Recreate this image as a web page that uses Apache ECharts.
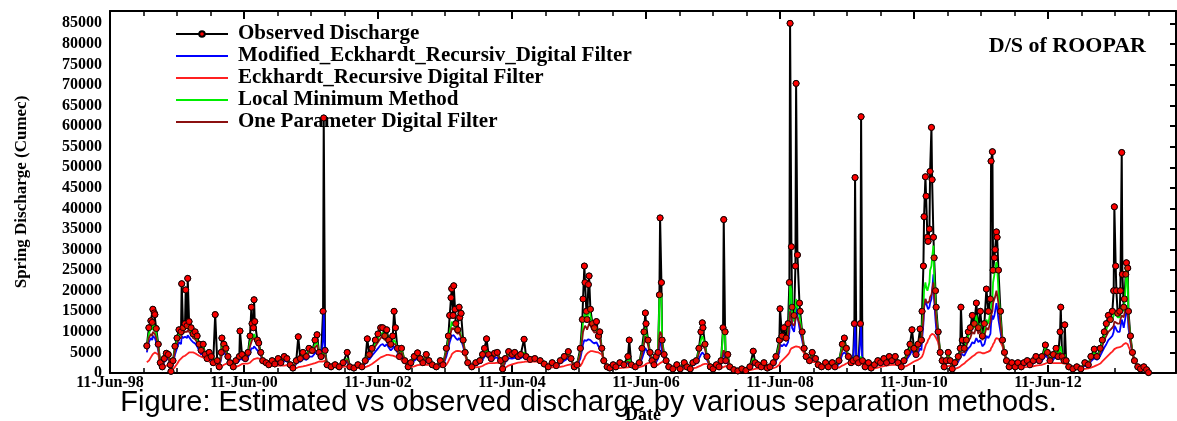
<!DOCTYPE html>
<html>
<head>
<meta charset="utf-8">
<title>D/S of ROOPAR</title>
<script src="https://cdn.jsdelivr.net/npm/echarts@6/dist/echarts.min.js"></script>
<style>
  html, body { margin: 0; padding: 0; background: #fff; }
  #chart { width: 1177px; height: 421px; }
</style>
</head>
<body>
<div id="chart"></div>
<script>
// dates as decimal years
const dates = [
  1998.99, 1999.02, 1999.05, 1999.07, 1999.08, 1999.10, 1999.11, 1999.13, 1999.16, 1999.19,
  1999.22, 1999.25, 1999.28, 1999.31, 1999.34, 1999.35, 1999.38, 1999.41, 1999.44, 1999.47,
  1999.50, 1999.51, 1999.53, 1999.56, 1999.57, 1999.59, 1999.60, 1999.62, 1999.65, 1999.68,
  1999.71, 1999.74, 1999.77, 1999.80, 1999.83, 1999.86, 1999.89, 1999.92, 1999.95, 1999.98,
  2000.01, 2000.04, 2000.07, 2000.10, 2000.11, 2000.14, 2000.17, 2000.20, 2000.23, 2000.28,
  2000.32, 2000.37, 2000.38, 2000.41, 2000.46, 2000.50, 2000.53, 2000.55, 2000.56, 2000.58,
  2000.59, 2000.60, 2000.64, 2000.66, 2000.69, 2000.72, 2000.77, 2000.81, 2000.86, 2000.90,
  2000.95, 2000.99, 2001.04, 2001.08, 2001.13, 2001.17, 2001.22, 2001.25, 2001.28, 2001.32,
  2001.37, 2001.41, 2001.46, 2001.50, 2001.53, 2001.56, 2001.59, 2001.62, 2001.63, 2001.65,
  2001.68, 2001.74, 2001.80, 2001.86, 2001.92, 2001.98, 2002.02, 2002.08, 2002.14, 2002.20,
  2002.25, 2002.28, 2002.31, 2002.35, 2002.40, 2002.44, 2002.48, 2002.51, 2002.54, 2002.57,
  2002.60, 2002.63, 2002.66, 2002.68, 2002.70, 2002.73, 2002.76, 2002.79, 2002.84, 2002.89,
  2002.93, 2002.98, 2003.03, 2003.07, 2003.11, 2003.16, 2003.20, 2003.25, 2003.31, 2003.37,
  2003.41, 2003.46, 2003.49, 2003.51, 2003.53, 2003.54, 2003.56, 2003.57, 2003.59, 2003.60,
  2003.63, 2003.65, 2003.66, 2003.68, 2003.71, 2003.74, 2003.78, 2003.84, 2003.90, 2003.96,
  2004.00, 2004.03, 2004.06, 2004.09, 2004.13, 2004.18, 2004.22, 2004.27, 2004.30, 2004.34,
  2004.39, 2004.44, 2004.48, 2004.53, 2004.57, 2004.62, 2004.65, 2004.71, 2004.78, 2004.86,
  2004.92, 2004.98, 2005.04, 2005.10, 2005.16, 2005.22, 2005.28, 2005.32, 2005.37, 2005.41,
  2005.46, 2005.49, 2005.50, 2005.52, 2005.53, 2005.55, 2005.56, 2005.58, 2005.59, 2005.61,
  2005.64, 2005.67, 2005.70, 2005.73, 2005.75, 2005.78, 2005.81, 2005.86, 2005.90, 2005.95,
  2005.99, 2006.05, 2006.11, 2006.17, 2006.19, 2006.22, 2006.28, 2006.34, 2006.38, 2006.41,
  2006.43, 2006.44, 2006.47, 2006.50, 2006.53, 2006.56, 2006.59, 2006.62, 2006.64, 2006.65,
  2006.67, 2006.68, 2006.71, 2006.74, 2006.78, 2006.84, 2006.90, 2006.95, 2007.01, 2007.05,
  2007.10, 2007.14, 2007.19, 2007.23, 2007.26, 2007.28, 2007.29, 2007.32, 2007.35, 2007.40,
  2007.44, 2007.49, 2007.53, 2007.56, 2007.59, 2007.60, 2007.62, 2007.63, 2007.66, 2007.69,
  2007.75, 2007.81, 2007.87, 2007.93, 2007.99, 2008.04, 2008.07, 2008.11, 2008.16, 2008.20,
  2008.25, 2008.29, 2008.34, 2008.38, 2008.43, 2008.44, 2008.47, 2008.50, 2008.53, 2008.56,
  2008.58, 2008.59, 2008.61, 2008.62, 2008.65, 2008.67, 2008.68, 2008.70, 2008.73, 2008.74,
  2008.77, 2008.80, 2008.83, 2008.88, 2008.92, 2008.97, 2009.01, 2009.06, 2009.12, 2009.16,
  2009.22, 2009.26, 2009.32, 2009.37, 2009.40, 2009.43, 2009.46, 2009.50, 2009.53, 2009.55,
  2009.56, 2009.58, 2009.61, 2009.64, 2009.65, 2009.67, 2009.71, 2009.76, 2009.80, 2009.85,
  2009.90, 2009.94, 2009.99, 2010.03, 2010.07, 2010.11, 2010.16, 2010.20, 2010.25, 2010.29,
  2010.34, 2010.38, 2010.41, 2010.44, 2010.47, 2010.50, 2010.53, 2010.55, 2010.56, 2010.58,
  2010.59, 2010.61, 2010.62, 2010.64, 2010.65, 2010.67, 2010.68, 2010.70, 2010.71, 2010.73,
  2010.74, 2010.76, 2010.77, 2010.80, 2010.83, 2010.86, 2010.89, 2010.92, 2010.95, 2010.98,
  2011.01, 2011.05, 2011.10, 2011.13, 2011.14, 2011.16, 2011.19, 2011.22, 2011.25, 2011.28,
  2011.31, 2011.34, 2011.37, 2011.40, 2011.43, 2011.46, 2011.49, 2011.52, 2011.55, 2011.58,
  2011.59, 2011.61, 2011.62, 2011.64, 2011.65, 2011.67, 2011.68, 2011.70, 2011.73, 2011.76,
  2011.79, 2011.82, 2011.86, 2011.90, 2011.95, 2011.99, 2012.04, 2012.08, 2012.13, 2012.17,
  2012.22, 2012.26, 2012.31, 2012.35, 2012.40, 2012.43, 2012.47, 2012.52, 2012.56, 2012.59,
  2012.62, 2012.63, 2012.65, 2012.68, 2012.69, 2012.71, 2012.75, 2012.81, 2012.87, 2012.93,
  2012.99, 2013.04, 2013.08, 2013.13, 2013.17, 2013.22, 2013.25, 2013.28, 2013.31, 2013.34,
  2013.37, 2013.40, 2013.42, 2013.43, 2013.45, 2013.46, 2013.48, 2013.51, 2013.52, 2013.54,
  2013.55, 2013.57, 2013.58, 2013.60, 2013.61, 2013.63, 2013.64, 2013.67, 2013.70, 2013.73,
  2013.78, 2013.82, 2013.87, 2013.91, 2013.94
]

const observed = [
  6600, 11000, 12700, 12300, 15500, 14600, 14200, 10800, 7000, 2500,
  1500, 3500, 4800, 4500, 2000, 400, 3000, 6500, 8500, 10500,
  10000, 21700, 11000, 12000, 20200, 11500, 23000, 12500, 11000, 9500,
  10000, 9000, 7000, 5500, 7000, 4500, 3500, 5000, 4000, 2500,
  14200, 3000, 1500, 5000, 8500, 7000, 6000, 4000, 2500, 1500,
  3000, 4000, 10200, 4500, 3500, 5000, 9000, 16000, 12000, 11000,
  17800, 12500, 8000, 7300, 5000, 3000, 2500, 2000, 3000, 2200,
  3500, 2500, 4000, 3500, 2000, 1200, 3000, 8800, 3500, 5000,
  4000, 6000, 5500, 8000, 9300, 5000, 4000, 15000, 62000, 5500,
  2000, 1500, 2000, 1500, 2500, 5000, 1500, 1200, 2000, 1500,
  3000, 8300, 4500, 6000, 8000, 9500, 11000, 11000, 9000, 10500,
  8000, 7000, 9000, 15000, 11000, 6000, 4000, 6000, 3000, 1500,
  2500, 4000, 4900, 3500, 2500, 4500, 3000, 2000, 1500, 3000,
  2000, 6000, 9000, 14000, 18300, 20500, 14000, 21200, 15500, 12000,
  10500, 16000, 13500, 14500, 8000, 5000, 2500, 1500, 2500, 3000,
  4500, 6000, 8300, 4500, 3500, 4800, 5000, 3000, 1000, 3500,
  5200, 4500, 5000, 4000, 4500, 8200, 4000, 3300, 3500, 3000,
  2200, 1500, 2500, 1800, 3000, 4000, 5200, 3500, 1500, 2000,
  6000, 13000, 18000, 26000, 22000, 15000, 13000, 21500, 23600, 15500,
  12000, 11000, 12500, 9000, 10000, 6000, 3000, 1500, 1200, 2000,
  1500, 2500, 2000, 4000, 8000, 2000, 1500, 2500, 6000, 10000,
  14600, 12000, 8000, 5000, 3000, 2000, 4000, 5000, 19000, 37700,
  22000, 8000, 4500, 3000, 1500, 1000, 2000, 1000, 2500, 1500,
  1000, 2500, 3000, 6000, 10000, 12200, 11000, 7000, 4000, 1500,
  1000, 2000, 1500, 3000, 11000, 37300, 10000, 3000, 4500, 1500,
  800, 500, 1000, 600, 1500, 5300, 2500, 2000, 1500, 2500,
  1200, 1500, 2500, 4000, 8000, 15600, 9000, 11000, 8500, 12000,
  22000, 85000, 30700, 16000, 14000, 26000, 70400, 28700, 17000, 15000,
  10000, 6000, 4000, 3000, 5000, 3500, 2000, 1500, 2500, 1500,
  2500, 1500, 3000, 7000, 8500, 6000, 4000, 2500, 3000, 12000,
  47500, 3500, 2500, 12000, 62300, 3000, 1500, 2500, 1200, 2000,
  3000, 2500, 3500, 2500, 4000, 3000, 4000, 2500, 1500, 3000,
  5000, 7000, 10500, 6000, 4500, 7000, 10700, 8000, 15000, 26000,
  38000, 47700, 43000, 33000, 32000, 35000, 49000, 59700, 47000, 33000,
  28000, 20000, 16000, 10000, 5000, 3000, 1500, 3000, 5000, 3000,
  1000, 2500, 4000, 6000, 16000, 8000, 6000, 8000, 10000, 11000,
  14000, 12000, 17000, 11000, 15000, 9000, 12000, 20400, 15000, 18000,
  51500, 53800, 25000, 28000, 30000, 34300, 33000, 25000, 15000, 8000,
  5000, 3000, 1500, 2500, 1500, 2500, 1500, 2500, 3000, 2000,
  3000, 4000, 3000, 4000, 6800, 5000, 3000, 4500, 6000, 4000,
  10000, 16000, 4000, 3000, 11700, 3000, 1500, 1000, 1500, 1000,
  2500, 2000, 4000, 5800, 4000, 6000, 8000, 10000, 12000, 14000,
  13000, 15000, 20000, 40400, 26000, 20000, 14500, 15000, 20000, 53600,
  24000, 16000, 18000, 24000, 26800, 25500, 15000, 9000, 5000, 3000,
  1500, 1000, 1500, 800, 100
]

const modEckhardt = [
  5000, 7500, 8500, 8000, 9000, 8800, 8500, 7500, 5500, 2200,
  1300, 2600, 3500, 3400, 1800, 400, 2200, 4500, 6000, 7500,
  7000, 9000, 8500, 8800, 9000, 8500, 9200, 8800, 8000, 7500,
  7200, 6500, 5500, 4500, 5000, 3800, 3200, 3500, 3200, 2300,
  3000, 2400, 1400, 3500, 5000, 4800, 4500, 3500, 2200, 1400,
  2400, 3000, 3500, 3300, 3000, 3800, 5000, 6000, 6200, 6000,
  6500, 6300, 5500, 5000, 4200, 2800, 2300, 1900, 2500, 2000,
  2800, 2200, 3000, 2800, 1800, 1100, 2200, 3000, 2700, 3500,
  3200, 4000, 4000, 4800, 5200, 4200, 3600, 8000, 15000, 4500,
  1900, 1400, 1800, 1400, 2100, 2800, 1400, 1100, 1700, 1400,
  2300, 3500, 3300, 4200, 5200, 6000, 6800, 7000, 6500, 7000,
  6200, 5500, 6000, 6500, 6200, 5000, 3600, 4200, 2800, 1400,
  2000, 3000, 3500, 3000, 2300, 3300, 2600, 1900, 1400, 2400,
  1800, 4000, 6000, 7500, 8500, 9000, 8800, 9200, 9000, 8500,
  8000, 8500, 8200, 8000, 6500, 4500, 2400, 1400, 2000, 2400,
  3200, 4000, 4500, 3800, 3100, 3600, 3800, 2700, 1000, 2600,
  3600, 3500, 3700, 3400, 3600, 4200, 3500, 3100, 3200, 2800,
  2100, 1400, 2000, 1700, 2400, 3000, 3600, 3000, 1500, 1800,
  3500, 6000, 7000, 8000, 8000, 7800, 7500, 8200, 8500, 8000,
  7500, 7200, 7500, 6500, 6800, 5200, 2900, 1400, 1100, 1700,
  1400, 2000, 1800, 2500, 3000, 1800, 1400, 2000, 3500, 5000,
  6000, 5800, 5000, 4000, 2800, 1900, 2600, 3500, 6000, 8000,
  7000, 5000, 3800, 2700, 1400, 1000, 1600, 1000, 1800, 1400,
  1000, 1900, 2300, 3500, 4500, 5000, 4800, 4200, 3200, 1400,
  1000, 1500, 1300, 2000, 4500, 5000, 4800, 2500, 2800, 1400,
  800, 500, 900, 600, 1200, 2500, 2000, 1700, 1400, 1900,
  1100, 1300, 1900, 2800, 5000, 7000, 6500, 7000, 6500, 7500,
  10000, 21000, 16000, 11000, 10000, 13000, 16000, 14000, 11000, 10000,
  8000, 5200, 3800, 2800, 3500, 3000, 1900, 1400, 2000, 1400,
  1900, 1400, 2200, 4500, 5000, 4500, 3500, 2400, 2800, 8000,
  12000, 3000, 2300, 8000, 11700, 2700, 1400, 2000, 1100, 1700,
  2300, 2200, 2700, 2300, 3000, 2700, 3200, 2300, 1500, 2300,
  3500, 4500, 5500, 4500, 3800, 4800, 6000, 5500, 8000, 12000,
  16000, 18000, 17000, 16000, 15500, 16000, 17000, 18000, 20000, 24000,
  18000, 13000, 11000, 8000, 4800, 2900, 1500, 2300, 3200, 2600,
  1000, 1800, 2800, 3800, 5000, 4500, 4200, 5200, 6000, 6500,
  7500, 7200, 8500, 7500, 8000, 6500, 7000, 9000, 8500, 9500,
  12000, 14000, 13000, 14000, 15000, 17000, 16000, 13000, 10000, 7000,
  4800, 2900, 1500, 2000, 1400, 2000, 1400, 2000, 2400, 1900,
  2400, 3000, 2600, 3000, 4200, 3800, 2800, 3300, 4000, 3400,
  4000, 4500, 3500, 2800, 4000, 2700, 1400, 1000, 1300, 1000,
  1800, 1700, 2800, 3600, 3200, 4200, 5200, 6200, 7000, 8000,
  8500, 9000, 10000, 11500, 11000, 10500, 10000, 10000, 11000, 13000,
  12500, 11000, 12000, 14000, 15000, 14000, 11000, 7500, 4800, 2900,
  1500, 1000, 1200, 700, 100
]

const eckhardt = [
  2600, 3000, 3800, 4200, 4600, 4800, 5000, 5000, 4500, 2200,
  1300, 1500, 1800, 2000, 1800, 400, 900, 1500, 2200, 3000,
  3500, 3800, 4000, 4200, 4500, 4600, 4800, 5000, 5000, 5000,
  4800, 4500, 4200, 4000, 3800, 3500, 3000, 2800, 2600, 2200,
  2000, 1800, 1400, 1500, 1800, 2000, 2200, 2200, 2000, 1400,
  1500, 1800, 2000, 2200, 2300, 2300, 2500, 2800, 3000, 3200,
  3400, 3500, 3600, 3500, 3400, 2800, 2300, 1900, 1800, 1800,
  1800, 1800, 1800, 1900, 1800, 1100, 1200, 1400, 1500, 1600,
  1800, 2000, 2200, 2400, 2600, 2800, 2800, 2800, 3000, 3000,
  1900, 1400, 1500, 1400, 1500, 1600, 1400, 1100, 1200, 1300,
  1400, 1600, 1800, 2200, 2800, 3300, 3800, 4000, 4200, 4400,
  4400, 4300, 4200, 4100, 4000, 3800, 3400, 3200, 2700, 1400,
  1400, 1600, 1900, 2000, 2000, 2000, 2000, 1800, 1400, 1500,
  1500, 2000, 2800, 3500, 4000, 4500, 4800, 5000, 5200, 5300,
  5400, 5400, 5300, 5200, 5000, 4200, 2400, 1400, 1400, 1500,
  1700, 2000, 2200, 2400, 2400, 2400, 2500, 2400, 1000, 1300,
  1800, 2100, 2300, 2500, 2600, 2700, 2800, 2800, 2800, 2600,
  2000, 1400, 1400, 1400, 1500, 1700, 2000, 2100, 1500, 1500,
  1700, 2500, 3000, 3500, 4000, 4500, 4800, 5000, 5200, 5300,
  5300, 5200, 5100, 5000, 4800, 4500, 2900, 1400, 1100, 1100,
  1200, 1200, 1300, 1400, 1500, 1500, 1400, 1400, 1600, 1800,
  2000, 2200, 2400, 2500, 2400, 1900, 1800, 2000, 2200, 2400,
  2600, 2700, 2700, 2500, 1400, 1000, 1000, 1000, 1000, 1100,
  1000, 1100, 1300, 1600, 1800, 2000, 2100, 2200, 2200, 1400,
  1000, 1000, 1000, 1100, 1400, 1500, 1600, 1700, 1700, 1400,
  800, 500, 600, 600, 700, 900, 1000, 1100, 1100, 1100,
  1100, 1100, 1200, 1400, 2000, 2500, 3000, 3500, 4000, 4500,
  5000, 5500, 6000, 6200, 6300, 6400, 6500, 6500, 6300, 6000,
  5500, 4800, 3800, 2800, 2700, 2600, 1900, 1400, 1400, 1300,
  1300, 1300, 1300, 1800, 2000, 2300, 2500, 2300, 2200, 2200,
  2200, 2200, 2100, 2100, 2100, 2100, 1400, 1400, 1100, 1100,
  1300, 1500, 1700, 1800, 1900, 2000, 2000, 2000, 1500, 1500,
  1800, 2200, 2500, 2800, 3000, 3200, 3500, 3600, 4000, 4800,
  5500, 6500, 7000, 7500, 8000, 8500, 9000, 9300, 9500, 9500,
  9300, 9000, 8500, 7500, 4700, 2900, 1500, 1500, 1700, 1800,
  1000, 1000, 1300, 1600, 1800, 2000, 2300, 2800, 3200, 3600,
  4000, 4300, 4800, 5000, 5000, 4800, 4800, 5000, 5200, 5500,
  6000, 6500, 7000, 7500, 8000, 8500, 8500, 8300, 7500, 6500,
  4700, 2900, 1500, 1500, 1400, 1400, 1400, 1400, 1500, 1600,
  1600, 1800, 1900, 2000, 2300, 2500, 2500, 2400, 2400, 2400,
  2400, 2400, 2400, 2300, 2300, 2200, 1400, 1000, 1000, 1000,
  1000, 1100, 1300, 1600, 1900, 2300, 2800, 3300, 3800, 4300,
  4800, 5200, 5500, 5800, 6000, 6100, 6200, 6300, 6400, 6500,
  6800, 7000, 7200, 7300, 7300, 7000, 6500, 5300, 4500, 2900,
  1500, 1000, 900, 600, 100
]

const localMinimum = [
  6000, 9500, 11000, 10500, 12000, 11500, 11000, 9500, 6500, 2400,
  1400, 3200, 4500, 4200, 1900, 400, 2800, 6000, 8000, 9500,
  9000, 11000, 10500, 11500, 11800, 11000, 12000, 11500, 10000, 9000,
  8800, 8000, 6500, 5200, 6500, 4300, 3400, 4500, 3800, 2400,
  3500, 2800, 1500, 4500, 7000, 6500, 5500, 3800, 2400, 1400,
  2800, 3800, 4200, 4200, 3300, 4800, 7500, 8500, 9000, 8500,
  9500, 9000, 7500, 6800, 4800, 3000, 2400, 2000, 2800, 2100,
  3200, 2400, 3700, 3300, 1900, 1200, 2800, 3500, 3300, 4500,
  3800, 5500, 5200, 7000, 7500, 4800, 3900, 5000, 5000, 4500,
  2000, 1500, 1900, 1500, 2300, 3500, 1500, 1200, 1900, 1500,
  2800, 4500, 4200, 5500, 7200, 8500, 9500, 9800, 8500, 9500,
  7500, 6500, 7500, 8000, 7500, 5800, 3900, 5500, 3000, 1500,
  2300, 3700, 4500, 3300, 2400, 4200, 2900, 2000, 1500, 2800,
  1900, 5500, 8000, 10000, 11500, 12500, 11500, 12000, 11500, 10500,
  9800, 10500, 10000, 9800, 7500, 4900, 2500, 1500, 2300, 2800,
  4000, 5000, 5500, 4300, 3400, 4400, 4700, 2900, 1000, 3200,
  4800, 4300, 4700, 3900, 4300, 5000, 3900, 3200, 3400, 2900,
  2200, 1500, 2300, 1800, 2800, 3700, 4800, 3300, 1500, 1900,
  5000, 10000, 12500, 14000, 14500, 14000, 13000, 15000, 16000, 14000,
  11500, 10500, 11000, 8500, 9000, 5800, 3000, 1500, 1200, 1900,
  1500, 2300, 1900, 3000, 3500, 1900, 1500, 2300, 5000, 8000,
  11000, 10000, 7500, 4800, 3000, 2000, 3500, 4700, 18500, 19500,
  19000, 7500, 4300, 2900, 1500, 1000, 1800, 1000, 2200, 1500,
  1000, 2300, 2800, 5500, 8000, 9000, 8500, 6500, 3800, 1500,
  1000, 1800, 1400, 2500, 10000, 10500, 9500, 2900, 4000, 1500,
  800, 500, 1000, 600, 1400, 3500, 2300, 1900, 1500, 2300,
  1200, 1400, 2300, 3500, 7000, 9000, 8500, 9000, 8000, 9500,
  14000, 22000, 20000, 14000, 12500, 16000, 18000, 16000, 14000, 13000,
  9500, 5800, 4000, 2900, 4500, 3300, 2000, 1500, 2300, 1500,
  2300, 1500, 2800, 6500, 7500, 5800, 3900, 2500, 2900, 4000,
  4000, 3400, 2400, 3500, 4000, 2900, 1500, 2300, 1200, 1900,
  2800, 2400, 3300, 2400, 3700, 2900, 3800, 2400, 1500, 2800,
  4500, 6000, 7500, 5500, 4300, 6200, 8500, 7500, 11000, 16000,
  20000, 22000, 21000, 20000, 20000, 22000, 25000, 26000, 28000, 31000,
  24000, 17000, 14000, 9500, 5000, 3000, 1500, 2800, 4500, 2900,
  1000, 2300, 3500, 4500, 6000, 6000, 5500, 7500, 9000, 10000,
  12000, 11000, 14000, 10500, 12000, 8500, 10000, 13000, 12000, 15000,
  16000, 18000, 22000, 24000, 25000, 27000, 26000, 20000, 13000, 8000,
  5000, 3000, 1500, 2300, 1500, 2300, 1500, 2300, 2800, 2000,
  2800, 3700, 2900, 3700, 6000, 4700, 2900, 4200, 5500, 3800,
  6000, 6500, 3900, 2900, 4500, 2900, 1500, 1000, 1400, 1000,
  2300, 1900, 3500, 5000, 3800, 5500, 7500, 9000, 10500, 12000,
  12500, 13000, 14000, 15000, 15000, 14500, 13500, 13500, 15000, 16000,
  16000, 15000, 17000, 21000, 26000, 22000, 13500, 8500, 5000, 3000,
  1500, 1000, 1400, 800, 100
]

const oneParameter = [
  5500, 8500, 9500, 9000, 10000, 9800, 9500, 8500, 6000, 2300,
  1400, 3000, 4200, 4000, 1900, 400, 2600, 5500, 7000, 8500,
  8500, 9500, 9500, 10000, 10200, 10000, 10500, 10000, 9500, 8500,
  8200, 7500, 6200, 5000, 6000, 4200, 3300, 4200, 3600, 2400,
  3200, 2700, 1500, 4000, 6000, 5800, 5000, 3600, 2300, 1400,
  2600, 3500, 3800, 4000, 3200, 4500, 6500, 7500, 8000, 7800,
  8500, 8200, 7000, 6500, 4600, 2900, 2400, 2000, 2700, 2100,
  3000, 2300, 3500, 3200, 1900, 1200, 2500, 3200, 3100, 4200,
  3600, 5000, 4800, 6200, 6800, 4600, 3800, 4500, 4500, 4300,
  2000, 1500, 1900, 1500, 2200, 3200, 1500, 1200, 1800, 1400,
  2600, 4000, 3900, 5000, 6500, 7500, 8500, 8800, 8000, 8500,
  7200, 6300, 7000, 7200, 7000, 5500, 3800, 5000, 2900, 1500,
  2200, 3400, 4200, 3200, 2400, 3900, 2800, 1900, 1500, 2600,
  1900, 5000, 7000, 9000, 10000, 11000, 10500, 11000, 10500, 10000,
  9500, 10000, 9500, 9300, 7200, 4800, 2500, 1500, 2200, 2600,
  3700, 4600, 5000, 4100, 3300, 4200, 4500, 2800, 1000, 3000,
  4400, 4100, 4500, 3800, 4200, 4700, 3800, 3200, 3300, 2900,
  2100, 1500, 2200, 1700, 2600, 3500, 4400, 3200, 1500, 1900,
  4500, 8500, 10000, 11000, 11500, 11000, 10500, 11500, 12000, 11500,
  10500, 9800, 10000, 8200, 8800, 5600, 3000, 1500, 1200, 1800,
  1400, 2200, 1900, 2800, 3200, 1900, 1500, 2200, 4500, 7000,
  9000, 8500, 6800, 4500, 2900, 2000, 3200, 4300, 9000, 10000,
  9500, 6500, 4100, 2800, 1500, 1000, 1700, 1000, 2000, 1400,
  1000, 2100, 2600, 4800, 6500, 7000, 7000, 5800, 3600, 1500,
  1000, 1700, 1400, 2300, 5000, 5500, 5000, 2800, 3500, 1500,
  800, 500, 900, 600, 1300, 3000, 2200, 1800, 1400, 2100,
  1200, 1400, 2100, 3200, 6000, 8000, 7800, 8500, 7800, 9000,
  12000, 15000, 14000, 12000, 11500, 13000, 14000, 13500, 12000, 11500,
  9000, 5600, 3900, 2900, 4200, 3200, 2000, 1500, 2200, 1400,
  2100, 1400, 2600, 5500, 6500, 5200, 3700, 2400, 2800, 3500,
  3500, 3300, 2400, 3200, 3500, 2800, 1500, 2200, 1200, 1800,
  2600, 2300, 3100, 2400, 3500, 2800, 3600, 2400, 1500, 2600,
  4100, 5500, 6500, 5000, 4100, 5800, 7500, 7000, 9500, 13000,
  16000, 18000, 17500, 17000, 17000, 17500, 18500, 19000, 20000, 22000,
  19000, 15000, 13000, 9000, 4900, 3000, 1500, 2600, 4000, 2800,
  1000, 2100, 3200, 4000, 5000, 5200, 5000, 6500, 7800, 8500,
  10000, 9500, 11500, 9500, 10500, 8000, 9000, 11000, 10500, 12500,
  14000, 15000, 17000, 18000, 18500, 20000, 19000, 17000, 12000, 7500,
  4900, 3000, 1500, 2200, 1500, 2200, 1500, 2200, 2600, 1900,
  2600, 3400, 2800, 3500, 5200, 4400, 2900, 3900, 5000, 3600,
  5000, 5200, 3700, 2800, 4000, 2800, 1500, 1000, 1400, 1000,
  2100, 1800, 3200, 4500, 3600, 5000, 6500, 8000, 9000, 10000,
  10500, 11000, 11500, 12500, 12500, 12500, 12000, 12000, 13000, 14000,
  14000, 13500, 14500, 15500, 16000, 15500, 13000, 8000, 4900, 3000,
  1500, 1000, 1300, 700, 100
]

const xTickLabels = ['11-Jun-98', '11-Jun-00', '11-Jun-02', '11-Jun-04',
  '11-Jun-06', '11-Jun-08', '11-Jun-10', '11-Jun-12']

const startYear = 1998.44 // 11-Jun-98
const endYear = 2014.35

const chart = echarts.init(document.getElementById('chart'))
const serif = '"Liberation Serif", "Times New Roman", serif'

// x in years since 11-Jun-98
const toPairs = vals => vals.map((v, i) => [+(dates[i] - startYear).toFixed(3), v])

const xBase = {
  type: 'value',
  min: 0,
  max: +(endYear - startYear).toFixed(2),
  interval: 2,
  splitLine: { show: false },
  axisLine: { onZero: false, lineStyle: { color: '#000', width: 2 } },
  axisTick: { inside: true, length: 8, lineStyle: { color: '#000', width: 2 } },
  minorTick: { show: true, splitNumber: 4, length: 5, lineStyle: { color: '#000', width: 1.5 } }
}
const yBase = {
  type: 'value',
  min: 0,
  max: 88000,
  interval: 5000,
  splitLine: { show: false },
  axisLine: { onZero: false, lineStyle: { color: '#000', width: 2 } }
}

const baseLine = (name, vals, color) => ({
  name: name,
  type: 'line',
  data: toPairs(vals),
  showSymbol: false,
  symbol: 'none',
  z: 3,
  lineStyle: { color: color, width: 1.8 },
  itemStyle: { color: color }
})

// legend entries for the filters: line only, no marker
const lineOnly = name => ({ name: name, itemStyle: { opacity: 0 } })

const option = {
  animation: false,
  backgroundColor: '#fff',
  grid: { left: 110, right: 1, top: 11, bottom: 48, containLabel: false, outerBoundsMode: 'none' },
  title: {
    text: 'D/S of ROOPAR',
    right: 26,
    top: 30,
    textStyle: { fontFamily: serif, fontWeight: 'bold', fontSize: 22, color: '#000' }
  },
  legend: {
    orient: 'vertical',
    left: 170,
    top: 18,
    itemWidth: 52,
    itemHeight: 7,
    itemGap: 0,
    data: [
      { name: 'Observed Discharge' },
      lineOnly('Modified_Eckhardt_Recursiv_Digital Filter'),
      lineOnly('Eckhardt_Recursive Digital Filter'),
      lineOnly('Local Minimum Method'),
      lineOnly('One Parameter Digital Filter')
    ],
    textStyle: {
      fontFamily: serif, fontWeight: 'bold', fontSize: 21, color: '#000',
      lineHeight: 22, padding: [0, 0, 0, 5]
    }
  },
  xAxis: [
    Object.assign({}, xBase, {
      position: 'bottom',
      name: 'Date',
      nameLocation: 'middle',
      nameGap: 33,
      nameTextStyle: { fontFamily: serif, fontWeight: 'bold', fontSize: 18, color: '#000' },
      axisLabel: {
        margin: 2,
        fontFamily: serif, fontWeight: 'bold', fontSize: 16, color: '#000',
        formatter: v => (v % 2 === 0 && xTickLabels[v / 2]) ? xTickLabels[v / 2] : ''
      }
    }),
    Object.assign({}, xBase, { position: 'top', axisLabel: { show: false } })
  ],
  yAxis: [
    Object.assign({}, yBase, {
      position: 'left',
      name: 'Spring Discharge (Cumec)',
      nameLocation: 'middle',
      nameGap: 80,
      nameRotate: 90,
      nameTextStyle: { fontFamily: serif, fontWeight: 'bold', fontSize: 17, color: '#000' },
      axisTick: { show: false },
      axisLabel: {
        margin: 8,
        fontFamily: serif, fontWeight: 'bold', fontSize: 16, color: '#000',
        formatter: v => (v % 5000 === 0 ? String(v) : '')
      }
    }),
    Object.assign({}, yBase, {
      position: 'right',
      axisTick: { inside: true, length: 6, lineStyle: { color: '#000', width: 2 } },
      axisLabel: { show: false }
    })
  ],
  graphic: [{
    type: 'text',
    left: 'center',
    top: 388,
    z: 100,
    style: {
      text: 'Figure: Estimated vs observed discharge by various separation methods.',
      fontFamily: '"Liberation Sans", Arial, sans-serif',
      fontSize: 29,
      fill: '#000'
    }
  }],
  series: [
    {
      name: 'Observed Discharge',
      type: 'line',
      data: toPairs(observed),
      z: 2,
      symbol: 'circle',
      symbolSize: 6,
      showSymbol: true,
      showAllSymbol: true,
      lineStyle: { color: '#000', width: 2 },
      itemStyle: { color: '#ff0000', borderColor: '#000', borderWidth: 1 }
    },
    baseLine('Modified_Eckhardt_Recursiv_Digital Filter', modEckhardt, '#0000ff'),
    baseLine('Eckhardt_Recursive Digital Filter', eckhardt, '#ff2020'),
    baseLine('Local Minimum Method', localMinimum, '#00ee00'),
    baseLine('One Parameter Digital Filter', oneParameter, '#8b1010'),
    {
      // markers drawn again on top of the filter lines
      type: 'scatter',
      data: toPairs(observed),
      z: 6,
      silent: true,
      symbol: 'circle',
      symbolSize: 6,
      itemStyle: { color: '#ff0000', borderColor: '#000', borderWidth: 1 }
    }
  ]
}

chart.setOption(option)
</script>
</body>
</html>
